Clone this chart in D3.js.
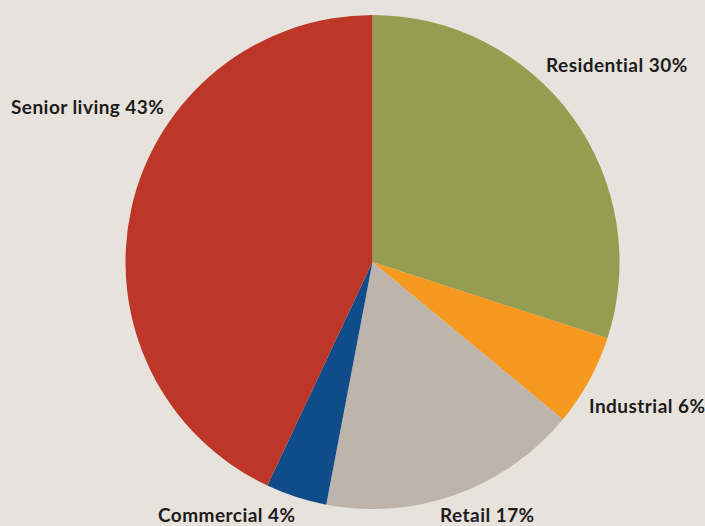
<!DOCTYPE html>
<html>
<head>
<meta charset="utf-8">
<script src="https://cdn.jsdelivr.net/npm/d3@7"></script>
<style>
  html, body { margin: 0; padding: 0; background: #e8e2dc; }
  svg { display: block; }
  .lbl { font-family: Lato, "Open Sans", sans-serif; font-weight: 700; font-size: 19px; letter-spacing: 0.45px; fill: #1c1c1c; }
</style>
</head>
<body>
<svg id="chart" width="705" height="526"></svg>
<script>
// Share of portfolio by property type (percent), clockwise from 12 o'clock
const categories = ["Residential", "Industrial", "Retail", "Commercial", "Senior living"];
const shares = [30, 6, 17, 4, 43];
const colors = ["#969d51", "#f7981f", "#bdb5ab", "#104c8a", "#bd3628"];

// Label placement (left edge x, baseline y) for each category
const labelLayout = {
  "Residential":   [546, 72],
  "Industrial":    [589, 413],
  "Retail":        [440, 521.5],
  "Commercial":    [158, 521.5],
  "Senior living": [11, 114]
};

const W = 705, H = 526;
const cx = 372.5, cy = 262, R = 247;

const svg = d3.select("#chart");
svg.append("rect").attr("width", W).attr("height", H).attr("fill", "#e8e2dc");

const data = categories.map((c, i) => ({ name: c, value: shares[i], color: colors[i] }));

const pie = d3.pie().value(d => d.value).sort(null);
const arc = d3.arc().innerRadius(0).outerRadius(R);

const g = svg.append("g").attr("transform", `translate(${cx},${cy})`);
g.selectAll("path")
  .data(pie(data))
  .join("path")
  .attr("d", arc)
  .attr("fill", d => d.data.color);

svg.selectAll("text.lbl")
  .data(data)
  .join("text")
  .attr("class", "lbl")
  .attr("x", d => labelLayout[d.name][0])
  .attr("y", d => labelLayout[d.name][1])
  .text(d => `${d.name} ${d.value}%`);
</script>
</body>
</html>
